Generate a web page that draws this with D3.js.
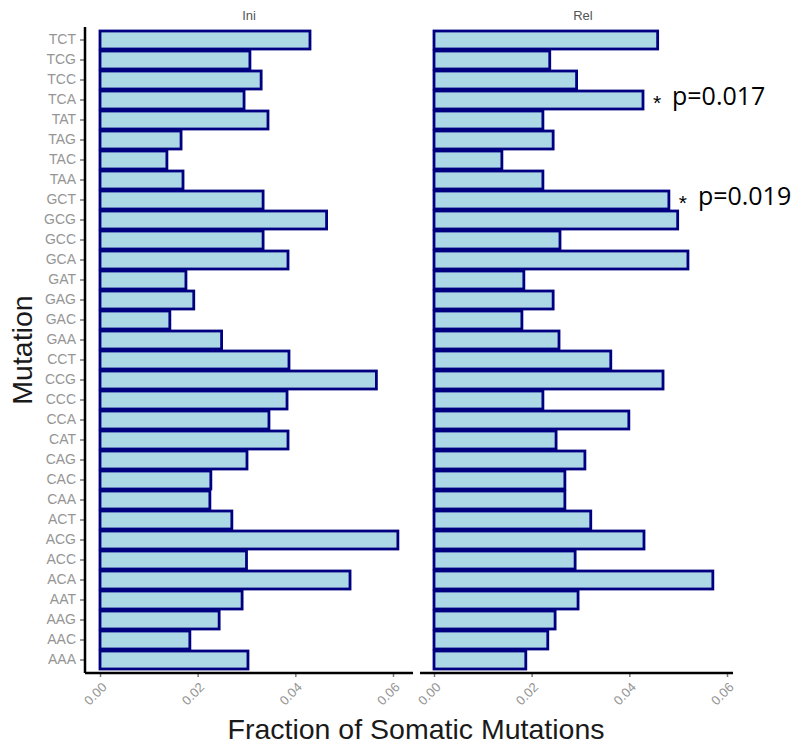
<!DOCTYPE html>
<html>
<head>
<meta charset="utf-8">
<script src="https://cdn.jsdelivr.net/npm/d3@7"></script>
<style>
    body { margin: 0; background: #fff; }
    svg { font-family: "Liberation Sans", Arial, sans-serif; }
</style>
</head>
<body>
<script>
// mutation contexts, top to bottom as drawn
var mutations = ["TCT","TCG","TCC","TCA","TAT","TAG","TAC","TAA",
                 "GCT","GCG","GCC","GCA","GAT","GAG","GAC","GAA",
                 "CCT","CCG","CCC","CCA","CAT","CAG","CAC","CAA",
                 "ACT","ACG","ACC","ACA","AAT","AAG","AAC","AAA"];

var iniValues = [0.0430,0.0307,0.0330,0.0295,0.0344,0.0166,0.0137,0.0170,
                 0.0334,0.0464,0.0334,0.0385,0.0176,0.0192,0.0143,0.0249,
                 0.0387,0.0566,0.0383,0.0346,0.0385,0.0301,0.0227,0.0225,
                 0.0270,0.0610,0.0300,0.0512,0.0291,0.0244,0.0184,0.0303];

var relValues = [0.0458,0.0237,0.0292,0.0428,0.0223,0.0244,0.0139,0.0223,
                 0.0481,0.0499,0.0258,0.0520,0.0184,0.0244,0.0180,0.0256,
                 0.0362,0.0469,0.0223,0.0399,0.0250,0.0309,0.0268,0.0268,
                 0.0321,0.0430,0.0289,0.0571,0.0295,0.0248,0.0233,0.0188];

var panelNames = ["Ini", "Rel"];
var xTicks = [0, 0.02, 0.04, 0.06];

// significance marks on the Rel panel
var starMutations = ["TCA", "GCT"];
var starLabels = ["p=0.017", "p=0.019"];

var width = 800;
var height = 748;
var yTop = 27, yBottom = 673;

var svg = d3.select("body").append("svg")
    .attr("width", width)
    .attr("height", height);

var y = d3.scaleBand()
    .domain(mutations)
    .range([yTop, yBottom])
    .paddingInner(0.1)
    .paddingOuter(0.2);

// each panel: left edge, right edge of axis line, and where 0 / 0.06 fall
var panels = [
    { name: panelNames[0], values: iniValues, x0: 85, x1: 413, zero: 100, six: 393, titleX: 249 },
    { name: panelNames[1], values: relValues, x0: 420, x1: 733, zero: 434, six: 727, titleX: 583 }
];

panels.forEach(function(p) {
    var x = d3.scaleLinear().domain([0, 0.06]).range([p.zero, p.six]);
    p.x = x;

    // bars
    svg.append("g")
        .selectAll("rect")
        .data(mutations)
        .enter()
        .append("rect")
        .attr("x", x(0))
        .attr("y", function(d) { return y(d); })
        .attr("width", function(d, i) { return x(p.values[i]) - x(0); })
        .attr("height", y.bandwidth())
        .attr("fill", "#add8e6")
        .attr("stroke", "#000080")
        .attr("stroke-width", 2.8);

    // x axis
    var xAxis = d3.axisBottom(x)
        .tickValues(xTicks)
        .tickFormat(d3.format(".2f"))
        .tickSize(4)
        .tickSizeOuter(0);

    var gx = svg.append("g")
        .attr("transform", "translate(0," + yBottom + ")")
        .call(xAxis);
    gx.select(".domain").remove();
    gx.selectAll(".tick line").attr("stroke", "#7a7a7a").attr("stroke-width", 1.5);
    gx.selectAll(".tick text")
        .attr("fill", "#959595")
        .style("font-size", "13px")
        .attr("text-anchor", "end")
        .attr("y", 0)
        .attr("dy", 0)
        .attr("transform", "translate(7,15) rotate(-45)");

    svg.append("line")
        .attr("x1", p.x0).attr("x2", p.x1)
        .attr("y1", yBottom).attr("y2", yBottom)
        .attr("stroke", "#000")
        .attr("stroke-width", 2.5);

    // panel title
    svg.append("text")
        .attr("x", p.titleX)
        .attr("y", 20)
        .attr("text-anchor", "middle")
        .attr("fill", "#555")
        .style("font-size", "13px")
        .text(p.name);
});

// y axis on left panel only
var yAxis = d3.axisLeft(y).tickSize(5).tickSizeOuter(0);
var gy = svg.append("g")
    .attr("transform", "translate(85,0)")
    .call(yAxis);
gy.select(".domain").remove();
gy.selectAll(".tick line").attr("stroke", "#7a7a7a").attr("stroke-width", 1.5);
gy.selectAll(".tick text")
    .attr("fill", "#959595")
    .style("font-size", "14px")
    .attr("x", -9);

svg.append("line")
    .attr("x1", 85).attr("x2", 85)
    .attr("y1", yTop).attr("y2", yBottom)
    .attr("stroke", "#000")
    .attr("stroke-width", 2.5);

// significance annotations
var rel = panels[1];
starMutations.forEach(function(m, i) {
    var v = relValues[mutations.indexOf(m)];
    var cy = y(m) + y.bandwidth() / 2;
    svg.append("text")
        .attr("x", rel.x(v) + 14)
        .attr("y", cy + 10)
        .attr("text-anchor", "middle")
        .style("font-size", "21px")
        .text("*");
    svg.append("text")
        .attr("x", rel.x(v) + 29)
        .attr("y", cy + 5)
        .style("font-size", "25px")
        .style("font-family", "'Open Sans', sans-serif")
        .text(starLabels[i]);
});

// axis titles
svg.append("text")
    .attr("x", 416)
    .attr("y", 739)
    .attr("text-anchor", "middle")
    .attr("fill", "#1a1a1a")
    .style("font-size", "28.5px")
    .text("Fraction of Somatic Mutations");

svg.append("text")
    .attr("transform", "translate(32,350) rotate(-90)")
    .attr("text-anchor", "middle")
    .attr("fill", "#1a1a1a")
    .style("font-size", "28.5px")
    .text("Mutation");
</script>
</body>
</html>
